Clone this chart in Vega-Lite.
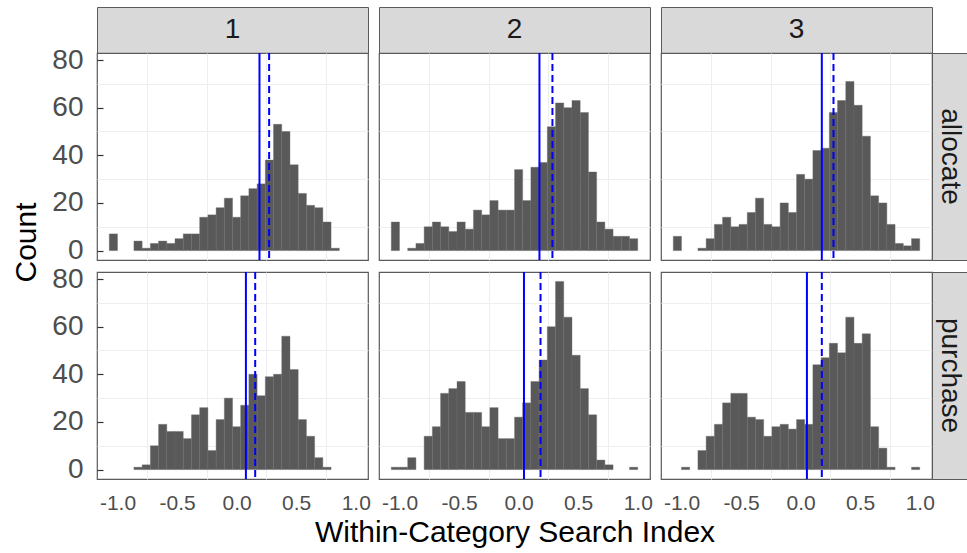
{
  "$schema": "https://vega.github.io/schema/vega-lite/v6.json",
  "background": "white",
  "padding": {"left": 11, "top": 6, "right": 0, "bottom": 0},
  "bounds": "flush",
  "align": "each",
  "spacing": 0,
  "columns": 6,
  "config": {
    "font": "Liberation Sans",
    "view": {"stroke": "#5a5a5a", "strokeWidth": 1.2},
    "axis": {
      "domain": false, "ticks": false, "labels": false, "grid": true,
      "gridColor": "#e6e6e6", "gridWidth": 1.6,
      "labelColor": "#4d4d4d", "labelFont": "Liberation Sans",
      "titleColor": "#000000", "titleFont": "Liberation Sans", "titleFontWeight": "normal", "titleFontSize": 30
    },
    "text": {"font": "Liberation Sans"}
  },
  "datasets": {
    "a1": [
      {"x0": -1.069, "x1": -1.0, "n": 7},
      {"x0": -0.862, "x1": -0.793, "n": 4},
      {"x0": -0.793, "x1": -0.724, "n": 1},
      {"x0": -0.724, "x1": -0.655, "n": 3},
      {"x0": -0.655, "x1": -0.586, "n": 4},
      {"x0": -0.586, "x1": -0.517, "n": 3},
      {"x0": -0.517, "x1": -0.448, "n": 5},
      {"x0": -0.448, "x1": -0.379, "n": 7},
      {"x0": -0.379, "x1": -0.31, "n": 7},
      {"x0": -0.31, "x1": -0.241, "n": 14},
      {"x0": -0.241, "x1": -0.172, "n": 15},
      {"x0": -0.172, "x1": -0.103, "n": 18},
      {"x0": -0.103, "x1": -0.034, "n": 22},
      {"x0": -0.034, "x1": 0.034, "n": 14},
      {"x0": 0.034, "x1": 0.103, "n": 23},
      {"x0": 0.103, "x1": 0.172, "n": 26},
      {"x0": 0.172, "x1": 0.241, "n": 28},
      {"x0": 0.241, "x1": 0.31, "n": 38},
      {"x0": 0.31, "x1": 0.379, "n": 53},
      {"x0": 0.379, "x1": 0.448, "n": 50},
      {"x0": 0.448, "x1": 0.517, "n": 36},
      {"x0": 0.517, "x1": 0.586, "n": 24},
      {"x0": 0.586, "x1": 0.655, "n": 19},
      {"x0": 0.655, "x1": 0.724, "n": 18},
      {"x0": 0.724, "x1": 0.793, "n": 12},
      {"x0": 0.793, "x1": 0.862, "n": 1}
    ],
    "a2": [
      {"x0": -1.069, "x1": -1.0, "n": 12},
      {"x0": -0.931, "x1": -0.862, "n": 1},
      {"x0": -0.862, "x1": -0.793, "n": 3},
      {"x0": -0.793, "x1": -0.724, "n": 10},
      {"x0": -0.724, "x1": -0.655, "n": 12},
      {"x0": -0.655, "x1": -0.586, "n": 10},
      {"x0": -0.586, "x1": -0.517, "n": 8},
      {"x0": -0.517, "x1": -0.448, "n": 12},
      {"x0": -0.448, "x1": -0.379, "n": 9},
      {"x0": -0.379, "x1": -0.31, "n": 17},
      {"x0": -0.31, "x1": -0.241, "n": 15},
      {"x0": -0.241, "x1": -0.172, "n": 21},
      {"x0": -0.172, "x1": -0.103, "n": 17},
      {"x0": -0.103, "x1": -0.034, "n": 17},
      {"x0": -0.034, "x1": 0.034, "n": 34},
      {"x0": 0.034, "x1": 0.103, "n": 21},
      {"x0": 0.103, "x1": 0.172, "n": 35},
      {"x0": 0.172, "x1": 0.241, "n": 37},
      {"x0": 0.241, "x1": 0.31, "n": 52},
      {"x0": 0.31, "x1": 0.379, "n": 62},
      {"x0": 0.379, "x1": 0.448, "n": 60},
      {"x0": 0.448, "x1": 0.517, "n": 63},
      {"x0": 0.517, "x1": 0.586, "n": 58},
      {"x0": 0.586, "x1": 0.655, "n": 33},
      {"x0": 0.655, "x1": 0.724, "n": 12},
      {"x0": 0.724, "x1": 0.793, "n": 9},
      {"x0": 0.793, "x1": 0.862, "n": 6},
      {"x0": 0.862, "x1": 0.931, "n": 6},
      {"x0": 0.931, "x1": 1.0, "n": 5}
    ],
    "a3": [
      {"x0": -1.069, "x1": -1.0, "n": 6},
      {"x0": -0.862, "x1": -0.793, "n": 1},
      {"x0": -0.793, "x1": -0.724, "n": 5},
      {"x0": -0.724, "x1": -0.655, "n": 11},
      {"x0": -0.655, "x1": -0.586, "n": 14},
      {"x0": -0.586, "x1": -0.517, "n": 10},
      {"x0": -0.517, "x1": -0.448, "n": 11},
      {"x0": -0.448, "x1": -0.379, "n": 16},
      {"x0": -0.379, "x1": -0.31, "n": 22},
      {"x0": -0.31, "x1": -0.241, "n": 11},
      {"x0": -0.241, "x1": -0.172, "n": 10},
      {"x0": -0.172, "x1": -0.103, "n": 20},
      {"x0": -0.103, "x1": -0.034, "n": 16},
      {"x0": -0.034, "x1": 0.034, "n": 32},
      {"x0": 0.034, "x1": 0.103, "n": 30},
      {"x0": 0.103, "x1": 0.172, "n": 42},
      {"x0": 0.172, "x1": 0.241, "n": 43},
      {"x0": 0.241, "x1": 0.31, "n": 58},
      {"x0": 0.31, "x1": 0.379, "n": 63},
      {"x0": 0.379, "x1": 0.448, "n": 71},
      {"x0": 0.448, "x1": 0.517, "n": 61},
      {"x0": 0.517, "x1": 0.586, "n": 48},
      {"x0": 0.586, "x1": 0.655, "n": 23},
      {"x0": 0.655, "x1": 0.724, "n": 20},
      {"x0": 0.724, "x1": 0.793, "n": 11},
      {"x0": 0.793, "x1": 0.862, "n": 3},
      {"x0": 0.862, "x1": 0.931, "n": 2},
      {"x0": 0.931, "x1": 1.0, "n": 5}
    ],
    "p1": [
      {"x0": -0.862, "x1": -0.793, "n": 1},
      {"x0": -0.793, "x1": -0.724, "n": 2},
      {"x0": -0.724, "x1": -0.655, "n": 10},
      {"x0": -0.655, "x1": -0.586, "n": 19},
      {"x0": -0.586, "x1": -0.517, "n": 16},
      {"x0": -0.517, "x1": -0.448, "n": 16},
      {"x0": -0.448, "x1": -0.379, "n": 13},
      {"x0": -0.379, "x1": -0.31, "n": 23},
      {"x0": -0.31, "x1": -0.241, "n": 26},
      {"x0": -0.241, "x1": -0.172, "n": 8},
      {"x0": -0.172, "x1": -0.103, "n": 21},
      {"x0": -0.103, "x1": -0.034, "n": 30},
      {"x0": -0.034, "x1": 0.034, "n": 18},
      {"x0": 0.034, "x1": 0.103, "n": 27},
      {"x0": 0.103, "x1": 0.172, "n": 40},
      {"x0": 0.172, "x1": 0.241, "n": 31},
      {"x0": 0.241, "x1": 0.31, "n": 39},
      {"x0": 0.31, "x1": 0.379, "n": 40},
      {"x0": 0.379, "x1": 0.448, "n": 56},
      {"x0": 0.448, "x1": 0.517, "n": 42},
      {"x0": 0.517, "x1": 0.586, "n": 21},
      {"x0": 0.586, "x1": 0.655, "n": 14},
      {"x0": 0.655, "x1": 0.724, "n": 5},
      {"x0": 0.724, "x1": 0.793, "n": 1}
    ],
    "p2": [
      {"x0": -1.069, "x1": -1.0, "n": 1},
      {"x0": -1.0, "x1": -0.931, "n": 1},
      {"x0": -0.931, "x1": -0.862, "n": 5},
      {"x0": -0.793, "x1": -0.724, "n": 14},
      {"x0": -0.724, "x1": -0.655, "n": 18},
      {"x0": -0.655, "x1": -0.586, "n": 32},
      {"x0": -0.586, "x1": -0.517, "n": 34},
      {"x0": -0.517, "x1": -0.448, "n": 37},
      {"x0": -0.448, "x1": -0.379, "n": 24},
      {"x0": -0.379, "x1": -0.31, "n": 24},
      {"x0": -0.31, "x1": -0.241, "n": 18},
      {"x0": -0.241, "x1": -0.172, "n": 26},
      {"x0": -0.172, "x1": -0.103, "n": 13},
      {"x0": -0.103, "x1": -0.034, "n": 13},
      {"x0": -0.034, "x1": 0.034, "n": 22},
      {"x0": 0.034, "x1": 0.103, "n": 28},
      {"x0": 0.103, "x1": 0.172, "n": 37},
      {"x0": 0.172, "x1": 0.241, "n": 46},
      {"x0": 0.241, "x1": 0.31, "n": 60},
      {"x0": 0.31, "x1": 0.379, "n": 79},
      {"x0": 0.379, "x1": 0.448, "n": 64},
      {"x0": 0.448, "x1": 0.517, "n": 48},
      {"x0": 0.517, "x1": 0.586, "n": 34},
      {"x0": 0.586, "x1": 0.655, "n": 23},
      {"x0": 0.655, "x1": 0.724, "n": 4},
      {"x0": 0.724, "x1": 0.793, "n": 2},
      {"x0": 0.931, "x1": 1.0, "n": 1}
    ],
    "p3": [
      {"x0": -1.0, "x1": -0.931, "n": 1},
      {"x0": -0.862, "x1": -0.793, "n": 8},
      {"x0": -0.793, "x1": -0.724, "n": 14},
      {"x0": -0.724, "x1": -0.655, "n": 19},
      {"x0": -0.655, "x1": -0.586, "n": 28},
      {"x0": -0.586, "x1": -0.517, "n": 32},
      {"x0": -0.517, "x1": -0.448, "n": 32},
      {"x0": -0.448, "x1": -0.379, "n": 22},
      {"x0": -0.379, "x1": -0.31, "n": 21},
      {"x0": -0.31, "x1": -0.241, "n": 14},
      {"x0": -0.241, "x1": -0.172, "n": 18},
      {"x0": -0.172, "x1": -0.103, "n": 19},
      {"x0": -0.103, "x1": -0.034, "n": 17},
      {"x0": -0.034, "x1": 0.034, "n": 21},
      {"x0": 0.034, "x1": 0.103, "n": 19},
      {"x0": 0.103, "x1": 0.172, "n": 44},
      {"x0": 0.172, "x1": 0.241, "n": 47},
      {"x0": 0.241, "x1": 0.31, "n": 53},
      {"x0": 0.31, "x1": 0.379, "n": 49},
      {"x0": 0.379, "x1": 0.448, "n": 64},
      {"x0": 0.448, "x1": 0.517, "n": 53},
      {"x0": 0.517, "x1": 0.586, "n": 57},
      {"x0": 0.586, "x1": 0.655, "n": 18},
      {"x0": 0.655, "x1": 0.724, "n": 9},
      {"x0": 0.724, "x1": 0.793, "n": 1},
      {"x0": 0.931, "x1": 1.0, "n": 1}
    ],
    "lines": [
      {"p": "a1", "v": 0.192, "k": "solid"}, {"p": "a1", "v": 0.273, "k": "dashed"},
      {"p": "a2", "v": 0.175, "k": "solid"}, {"p": "a2", "v": 0.284, "k": "dashed"},
      {"p": "a3", "v": 0.178, "k": "solid"}, {"p": "a3", "v": 0.276, "k": "dashed"},
      {"p": "p1", "v": 0.078, "k": "solid"}, {"p": "p1", "v": 0.156, "k": "dashed"},
      {"p": "p2", "v": 0.045, "k": "solid"}, {"p": "p2", "v": 0.184, "k": "dashed"},
      {"p": "p3", "v": 0.053, "k": "solid"}, {"p": "p3", "v": 0.178, "k": "dashed"}
    ]
  },
  "concat": [
    {"width": 271, "height": 46, "view": {"fill": "#d9d9d9", "stroke": "#5a5a5a"}, "data": {"values": [{"t": "1"}]}, "mark": {"type": "text", "fontSize": 28, "color": "#1a1a1a"}, "encoding": {"text": {"field": "t"}}},
    {"width": 11, "height": 46, "view": {"stroke": null}, "data": {"values": [{"t": ""}]}, "mark": {"type": "text"}, "encoding": {"text": {"field": "t"}}},
    {"width": 271, "height": 46, "view": {"fill": "#d9d9d9", "stroke": "#5a5a5a"}, "data": {"values": [{"t": "2"}]}, "mark": {"type": "text", "fontSize": 28, "color": "#1a1a1a"}, "encoding": {"text": {"field": "t"}}},
    {"width": 11, "height": 46, "view": {"stroke": null}, "data": {"values": [{"t": ""}]}, "mark": {"type": "text"}, "encoding": {"text": {"field": "t"}}},
    {"width": 271, "height": 46, "view": {"fill": "#d9d9d9", "stroke": "#5a5a5a"}, "data": {"values": [{"t": "3"}]}, "mark": {"type": "text", "fontSize": 28, "color": "#1a1a1a"}, "encoding": {"text": {"field": "t"}}},
    {"width": 36, "height": 46, "view": {"stroke": null}, "data": {"values": [{"t": ""}]}, "mark": {"type": "text"}, "encoding": {"text": {"field": "t"}}},

    {
      "width": 271, "height": 207,
      "resolve": {"axis": {"x": "independent", "y": "independent"}},
      "layer": [
        {"data": {"name": "a1"}, "mark": {"type": "rect", "opacity": 0},
         "encoding": {
           "x": {"field": "x0", "type": "quantitative", "scale": {"domain": [-1.172, 1.103], "nice": false, "zero": false}, "axis": {"orient": "bottom", "values": [-0.75, -0.25, 0.25, 0.75], "gridWidth": 1, "gridColor": "#eeeeee", "title": null}},
           "x2": {"field": "x1"},
           "y": {"field": "n", "type": "quantitative", "scale": {"domain": [-3.95, 82.95], "nice": false, "zero": false}, "axis": {"orient": "left", "values": [10, 30, 50, 70], "gridWidth": 1, "gridColor": "#eeeeee", "title": null}},
           "y2": {"datum": 0}}},
        {"data": {"name": "a1"}, "mark": {"type": "rect", "fill": "#595959", "stroke": "#6a6a6a", "strokeWidth": 0.4},
         "encoding": {
           "x": {"field": "x0", "type": "quantitative", "axis": {"orient": "bottom", "values": [-1, -0.5, 0, 0.5, 1], "title": null}},
           "x2": {"field": "x1"},
           "y": {"field": "n", "type": "quantitative", "axis": {"orient": "left", "values": [0, 20, 40, 60, 80], "labels": true, "labelFontSize": 28, "ticks": true, "tickSize": -6, "tickColor": "#333333", "tickWidth": 1.2, "labelPadding": 20, "title": null}},
           "y2": {"datum": 0}}},
        {"data": {"name": "lines"}, "transform": [{"filter": "datum.p == 'a1'"}], "mark": {"type": "rule", "color": "#0000ff", "strokeWidth": 2},
         "encoding": {"x": {"field": "v", "type": "quantitative", "axis": null}, "strokeDash": {"field": "k", "type": "nominal", "scale": {"domain": ["solid", "dashed"], "range": [[1, 0], [7, 4]]}, "legend": null}}}
      ]
    },
    {"width": 11, "height": 207, "view": {"stroke": null}, "data": {"values": [{"t": ""}]}, "mark": {"type": "text"}, "encoding": {"text": {"field": "t"}}},
    {
      "width": 271, "height": 207,
      "resolve": {"axis": {"x": "independent", "y": "independent"}},
      "layer": [
        {"data": {"name": "a2"}, "mark": {"type": "rect", "opacity": 0},
         "encoding": {
           "x": {"field": "x0", "type": "quantitative", "scale": {"domain": [-1.172, 1.103], "nice": false, "zero": false}, "axis": {"orient": "bottom", "values": [-0.75, -0.25, 0.25, 0.75], "gridWidth": 1, "gridColor": "#eeeeee", "title": null}},
           "x2": {"field": "x1"},
           "y": {"field": "n", "type": "quantitative", "scale": {"domain": [-3.95, 82.95], "nice": false, "zero": false}, "axis": {"orient": "left", "values": [10, 30, 50, 70], "gridWidth": 1, "gridColor": "#eeeeee", "title": null}},
           "y2": {"datum": 0}}},
        {"data": {"name": "a2"}, "mark": {"type": "rect", "fill": "#595959", "stroke": "#6a6a6a", "strokeWidth": 0.4},
         "encoding": {
           "x": {"field": "x0", "type": "quantitative", "axis": {"orient": "bottom", "values": [-1, -0.5, 0, 0.5, 1], "title": null}},
           "x2": {"field": "x1"},
           "y": {"field": "n", "type": "quantitative", "axis": {"orient": "left", "values": [0, 20, 40, 60, 80], "title": null}},
           "y2": {"datum": 0}}},
        {"data": {"name": "lines"}, "transform": [{"filter": "datum.p == 'a2'"}], "mark": {"type": "rule", "color": "#0000ff", "strokeWidth": 2},
         "encoding": {"x": {"field": "v", "type": "quantitative", "axis": null}, "strokeDash": {"field": "k", "type": "nominal", "scale": {"domain": ["solid", "dashed"], "range": [[1, 0], [7, 4]]}, "legend": null}}}
      ]
    },
    {"width": 11, "height": 207, "view": {"stroke": null}, "data": {"values": [{"t": ""}]}, "mark": {"type": "text"}, "encoding": {"text": {"field": "t"}}},
    {
      "width": 271, "height": 207,
      "resolve": {"axis": {"x": "independent", "y": "independent"}},
      "layer": [
        {"data": {"name": "a3"}, "mark": {"type": "rect", "opacity": 0},
         "encoding": {
           "x": {"field": "x0", "type": "quantitative", "scale": {"domain": [-1.172, 1.103], "nice": false, "zero": false}, "axis": {"orient": "bottom", "values": [-0.75, -0.25, 0.25, 0.75], "gridWidth": 1, "gridColor": "#eeeeee", "title": null}},
           "x2": {"field": "x1"},
           "y": {"field": "n", "type": "quantitative", "scale": {"domain": [-3.95, 82.95], "nice": false, "zero": false}, "axis": {"orient": "left", "values": [10, 30, 50, 70], "gridWidth": 1, "gridColor": "#eeeeee", "title": null}},
           "y2": {"datum": 0}}},
        {"data": {"name": "a3"}, "mark": {"type": "rect", "fill": "#595959", "stroke": "#6a6a6a", "strokeWidth": 0.4},
         "encoding": {
           "x": {"field": "x0", "type": "quantitative", "axis": {"orient": "bottom", "values": [-1, -0.5, 0, 0.5, 1], "title": null}},
           "x2": {"field": "x1"},
           "y": {"field": "n", "type": "quantitative", "axis": {"orient": "left", "values": [0, 20, 40, 60, 80], "title": null}},
           "y2": {"datum": 0}}},
        {"data": {"name": "lines"}, "transform": [{"filter": "datum.p == 'a3'"}], "mark": {"type": "rule", "color": "#0000ff", "strokeWidth": 2},
         "encoding": {"x": {"field": "v", "type": "quantitative", "axis": null}, "strokeDash": {"field": "k", "type": "nominal", "scale": {"domain": ["solid", "dashed"], "range": [[1, 0], [7, 4]]}, "legend": null}}}
      ]
    },
    {"width": 36, "height": 207, "view": {"fill": "#d9d9d9", "stroke": "#5a5a5a"}, "data": {"values": [{"t": "allocate"}]}, "mark": {"type": "text", "angle": 90, "fontSize": 28, "color": "#1a1a1a"}, "encoding": {"text": {"field": "t"}}},

    {"width": 271, "height": 12, "view": {"stroke": null}, "data": {"values": [{"t": ""}]}, "mark": {"type": "text"}, "encoding": {"text": {"field": "t"}}},
    {"width": 11, "height": 12, "view": {"stroke": null}, "data": {"values": [{"t": ""}]}, "mark": {"type": "text"}, "encoding": {"text": {"field": "t"}}},
    {"width": 271, "height": 12, "view": {"stroke": null}, "data": {"values": [{"t": ""}]}, "mark": {"type": "text"}, "encoding": {"text": {"field": "t"}}},
    {"width": 11, "height": 12, "view": {"stroke": null}, "data": {"values": [{"t": ""}]}, "mark": {"type": "text"}, "encoding": {"text": {"field": "t"}}},
    {"width": 271, "height": 12, "view": {"stroke": null}, "data": {"values": [{"t": ""}]}, "mark": {"type": "text"}, "encoding": {"text": {"field": "t"}}},
    {"width": 36, "height": 12, "view": {"stroke": null}, "data": {"values": [{"t": ""}]}, "mark": {"type": "text"}, "encoding": {"text": {"field": "t"}}},

    {
      "width": 271, "height": 207,
      "resolve": {"axis": {"x": "independent", "y": "independent"}},
      "layer": [
        {"data": {"name": "p1"}, "mark": {"type": "rect", "opacity": 0},
         "encoding": {
           "x": {"field": "x0", "type": "quantitative", "scale": {"domain": [-1.172, 1.103], "nice": false, "zero": false}, "axis": {"orient": "bottom", "values": [-0.75, -0.25, 0.25, 0.75], "gridWidth": 1, "gridColor": "#eeeeee", "title": null}},
           "x2": {"field": "x1"},
           "y": {"field": "n", "type": "quantitative", "scale": {"domain": [-3.95, 82.95], "nice": false, "zero": false}, "axis": {"orient": "left", "values": [10, 30, 50, 70], "gridWidth": 1, "gridColor": "#eeeeee", "title": null}},
           "y2": {"datum": 0}}},
        {"data": {"name": "p1"}, "mark": {"type": "rect", "fill": "#595959", "stroke": "#6a6a6a", "strokeWidth": 0.4},
         "encoding": {
           "x": {"field": "x0", "type": "quantitative", "axis": {"orient": "bottom", "values": [-1, -0.5, 0, 0.5, 1], "labels": true, "labelFontSize": 21, "labelPadding": 13, "labelExpr": "datum.value < 0 ? '-' + format(-datum.value, '.1f') : format(datum.value, '.1f')", "title": null}},
           "x2": {"field": "x1"},
           "y": {"field": "n", "type": "quantitative", "axis": {"orient": "left", "values": [0, 20, 40, 60, 80], "labels": true, "labelFontSize": 28, "ticks": true, "tickSize": -6, "tickColor": "#333333", "tickWidth": 1.2, "labelPadding": 20, "title": "Count", "titleY": -30, "titlePadding": 10}},
           "y2": {"datum": 0}}},
        {"data": {"name": "lines"}, "transform": [{"filter": "datum.p == 'p1'"}], "mark": {"type": "rule", "color": "#0000ff", "strokeWidth": 2},
         "encoding": {"x": {"field": "v", "type": "quantitative", "axis": null}, "strokeDash": {"field": "k", "type": "nominal", "scale": {"domain": ["solid", "dashed"], "range": [[1, 0], [7, 4]]}, "legend": null}}}
      ]
    },
    {"width": 11, "height": 207, "view": {"stroke": null}, "data": {"values": [{"t": ""}]}, "mark": {"type": "text"}, "encoding": {"text": {"field": "t"}}},
    {
      "width": 271, "height": 207,
      "resolve": {"axis": {"x": "independent", "y": "independent"}},
      "layer": [
        {"data": {"name": "p2"}, "mark": {"type": "rect", "opacity": 0},
         "encoding": {
           "x": {"field": "x0", "type": "quantitative", "scale": {"domain": [-1.172, 1.103], "nice": false, "zero": false}, "axis": {"orient": "bottom", "values": [-0.75, -0.25, 0.25, 0.75], "gridWidth": 1, "gridColor": "#eeeeee", "title": null}},
           "x2": {"field": "x1"},
           "y": {"field": "n", "type": "quantitative", "scale": {"domain": [-3.95, 82.95], "nice": false, "zero": false}, "axis": {"orient": "left", "values": [10, 30, 50, 70], "gridWidth": 1, "gridColor": "#eeeeee", "title": null}},
           "y2": {"datum": 0}}},
        {"data": {"name": "p2"}, "mark": {"type": "rect", "fill": "#595959", "stroke": "#6a6a6a", "strokeWidth": 0.4},
         "encoding": {
           "x": {"field": "x0", "type": "quantitative", "axis": {"orient": "bottom", "values": [-1, -0.5, 0, 0.5, 1], "labels": true, "labelFontSize": 21, "labelPadding": 13, "labelExpr": "datum.value < 0 ? '-' + format(-datum.value, '.1f') : format(datum.value, '.1f')", "title": "Within-Category Search Index", "titlePadding": 4}},
           "x2": {"field": "x1"},
           "y": {"field": "n", "type": "quantitative", "axis": {"orient": "left", "values": [0, 20, 40, 60, 80], "title": null}},
           "y2": {"datum": 0}}},
        {"data": {"name": "lines"}, "transform": [{"filter": "datum.p == 'p2'"}], "mark": {"type": "rule", "color": "#0000ff", "strokeWidth": 2},
         "encoding": {"x": {"field": "v", "type": "quantitative", "axis": null}, "strokeDash": {"field": "k", "type": "nominal", "scale": {"domain": ["solid", "dashed"], "range": [[1, 0], [7, 4]]}, "legend": null}}}
      ]
    },
    {"width": 11, "height": 207, "view": {"stroke": null}, "data": {"values": [{"t": ""}]}, "mark": {"type": "text"}, "encoding": {"text": {"field": "t"}}},
    {
      "width": 271, "height": 207,
      "resolve": {"axis": {"x": "independent", "y": "independent"}},
      "layer": [
        {"data": {"name": "p3"}, "mark": {"type": "rect", "opacity": 0},
         "encoding": {
           "x": {"field": "x0", "type": "quantitative", "scale": {"domain": [-1.172, 1.103], "nice": false, "zero": false}, "axis": {"orient": "bottom", "values": [-0.75, -0.25, 0.25, 0.75], "gridWidth": 1, "gridColor": "#eeeeee", "title": null}},
           "x2": {"field": "x1"},
           "y": {"field": "n", "type": "quantitative", "scale": {"domain": [-3.95, 82.95], "nice": false, "zero": false}, "axis": {"orient": "left", "values": [10, 30, 50, 70], "gridWidth": 1, "gridColor": "#eeeeee", "title": null}},
           "y2": {"datum": 0}}},
        {"data": {"name": "p3"}, "mark": {"type": "rect", "fill": "#595959", "stroke": "#6a6a6a", "strokeWidth": 0.4},
         "encoding": {
           "x": {"field": "x0", "type": "quantitative", "axis": {"orient": "bottom", "values": [-1, -0.5, 0, 0.5, 1], "labels": true, "labelFontSize": 21, "labelPadding": 13, "labelExpr": "datum.value < 0 ? '-' + format(-datum.value, '.1f') : format(datum.value, '.1f')", "title": null}},
           "x2": {"field": "x1"},
           "y": {"field": "n", "type": "quantitative", "axis": {"orient": "left", "values": [0, 20, 40, 60, 80], "title": null}},
           "y2": {"datum": 0}}},
        {"data": {"name": "lines"}, "transform": [{"filter": "datum.p == 'p3'"}], "mark": {"type": "rule", "color": "#0000ff", "strokeWidth": 2},
         "encoding": {"x": {"field": "v", "type": "quantitative", "axis": null}, "strokeDash": {"field": "k", "type": "nominal", "scale": {"domain": ["solid", "dashed"], "range": [[1, 0], [7, 4]]}, "legend": null}}}
      ]
    },
    {"width": 36, "height": 207, "view": {"fill": "#d9d9d9", "stroke": "#5a5a5a"}, "data": {"values": [{"t": "purchase"}]}, "mark": {"type": "text", "angle": 90, "fontSize": 28, "color": "#1a1a1a"}, "encoding": {"text": {"field": "t"}}}
  ]
}
